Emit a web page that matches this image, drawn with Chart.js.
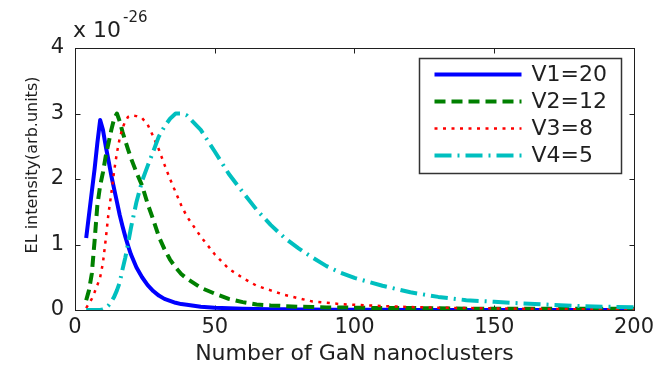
<!DOCTYPE html>
<html>
<head>
<meta charset="utf-8">
<title>EL intensity vs number of GaN nanoclusters</title>
<script src="https://cdn.jsdelivr.net/npm/chart.js@4.4.1/dist/chart.umd.min.js"></script>
<style>
  html, body { margin: 0; padding: 0; background: #fff; }
  .chart-container { position: relative; width: 659px; height: 367px; }
</style>
</head>
<body>
<div class="chart-container">
  <canvas id="chart" width="659" height="367"></canvas>
</div>
<script>
// values (y in units of 1e-26)
const xValues = [4, 5, 6, 7, 8, 9, 10, 11, 12, 13, 14, 15, 16, 17, 18, 19, 20,
  22, 24, 26, 28, 30, 32, 34, 36, 38, 40,
  45, 50, 55, 60, 65, 70, 75, 80, 85, 90, 95, 100,
  110, 120, 130, 140, 150, 160, 170, 180, 190, 200];

const v1 = [1.1, 1.45, 1.8, 2.15, 2.55, 2.9, 2.75, 2.5, 2.28, 2.05, 1.85, 1.65, 1.45, 1.28, 1.12, 0.98, 0.85,
  0.65, 0.5, 0.38, 0.29, 0.22, 0.17, 0.14, 0.11, 0.09, 0.08,
  0.05, 0.035, 0.027, 0.02, 0.015, 0.012, 0.01, 0.008, 0.006, 0.005, 0.004, 0.003,
  0.002, 0.001, 0.001, 0, 0, 0, 0, 0, 0, 0];

const v2 = [0.15, 0.3, 0.55, 1.05, 1.6, 1.9, 2.1, 2.35, 2.55, 2.75, 2.92, 3.0, 2.88, 2.72, 2.58, 2.45, 2.32,
  2.1, 1.9, 1.62, 1.38, 1.12, 0.93, 0.77, 0.65, 0.55, 0.48,
  0.34, 0.25, 0.17, 0.12, 0.085, 0.07, 0.06, 0.05, 0.045, 0.04, 0.04, 0.035,
  0.03, 0.03, 0.025, 0.02, 0.02, 0.02, 0.02, 0.02, 0.02, 0.02];

const v3 = [0.03, 0.1, 0.17, 0.27, 0.38, 0.5, 0.72, 1.08, 1.48, 1.78, 2.12, 2.4, 2.62, 2.78, 2.88, 2.95, 2.97,
  2.96, 2.93, 2.83, 2.65, 2.45, 2.22, 2.0, 1.8, 1.6, 1.43,
  1.12, 0.85, 0.63, 0.49, 0.37, 0.3, 0.23, 0.18, 0.13, 0.11, 0.09, 0.08,
  0.06, 0.045, 0.035, 0.03, 0.025, 0.02, 0.015, 0.012, 0.01, 0.01];

const v4 = [0, 0, 0, 0, 0, 0, 0.01, 0.03, 0.07, 0.13, 0.2, 0.3, 0.42, 0.62, 0.8, 1.02, 1.25,
  1.65, 1.97, 2.2, 2.42, 2.65, 2.8, 2.92, 3.0, 3.0, 2.97,
  2.75, 2.42, 2.08, 1.8, 1.53, 1.3, 1.1, 0.94, 0.8, 0.67, 0.57, 0.49,
  0.37, 0.27, 0.2, 0.15, 0.125, 0.1, 0.08, 0.06, 0.05, 0.04];

const seriesLabels = ["V1=20", "V2=12", "V3=8", "V4=5"];
const xTicks = [0, 50, 100, 150, 200];
const yTicks = [0, 1, 2, 3, 4];
const xTitle = "Number of GaN nanoclusters";
const yTitle = "EL intensity(arb.units)";
const expBase = "x 10";
const expPower = "-26";

const FONT = '"DejaVu Sans", sans-serif';
const INK = "#1f1f1f";

Chart.defaults.font.family = FONT;
Chart.defaults.color = INK;

const toPoints = (ys) => xValues.map((x, i) => ({ x: x, y: ys[i] }));

// box round the plot with inward tick marks, drawn under the curves
const axesBox = {
  id: "axesBox",
  beforeDatasetsDraw(chart) {
    const { ctx, chartArea: a, scales } = chart;
    const l = Math.round(a.left) + 0.5, r = Math.round(a.right) + 0.5;
    const t = Math.round(a.top) + 0.5, b = Math.round(a.bottom) + 0.5;
    ctx.save();
    ctx.strokeStyle = INK;
    ctx.lineWidth = 1;
    ctx.strokeRect(l, t, r - l, b - t);
    ctx.beginPath();
    xTicks.forEach((v) => {
      const px = Math.round(scales.x.getPixelForValue(v)) + 0.5;
      ctx.moveTo(px, b); ctx.lineTo(px, b - 5);
      ctx.moveTo(px, t); ctx.lineTo(px, t + 5);
    });
    yTicks.forEach((v) => {
      const py = Math.round(scales.y.getPixelForValue(v)) + 0.5;
      ctx.moveTo(l, py); ctx.lineTo(l + 5, py);
      ctx.moveTo(r, py); ctx.lineTo(r - 5, py);
    });
    ctx.stroke();
    ctx.restore();
  },
  afterDraw(chart) {
    const { ctx, chartArea: a } = chart;
    ctx.save();
    ctx.fillStyle = INK;
    // y axis title, sits a little above the middle of the axis like the original
    ctx.save();
    ctx.translate(33, (a.top + a.bottom) / 2 - 14);
    ctx.rotate(-Math.PI / 2);
    ctx.textAlign = "center";
    ctx.textBaseline = "middle";
    ctx.font = "16px " + FONT;
    ctx.fillText(yTitle, 0, 0);
    ctx.restore();
    // the "x 10^-26" factor above the y axis
    ctx.textBaseline = "alphabetic";
    ctx.font = "22px " + FONT;
    const x0 = a.left - 2;
    ctx.fillText(expBase, x0, a.top - 11);
    const w = ctx.measureText(expBase).width;
    ctx.font = "15px " + FONT;
    ctx.fillText(expPower, x0 + w + 2, a.top - 26);
    ctx.restore();
  }
};

// matlab style legend in the top right corner of the axes
const legendBox = {
  id: "legendBox",
  afterDatasetsDraw(chart) {
    const { ctx, chartArea: a } = chart;
    const w = 202, h = 115;
    const left = Math.round(a.right - 215) + 0.5, top = Math.round(a.top + 10) + 0.5;
    ctx.save();
    ctx.fillStyle = "#fff";
    ctx.fillRect(left, top, w, h);
    ctx.strokeStyle = "#333";
    ctx.lineWidth = 1.5;
    ctx.strokeRect(left, top, w, h);
    chart.data.datasets.forEach((ds, i) => {
      const y = top + 16 + i * 27;
      ctx.beginPath();
      ctx.setLineDash(ds.borderDash || []);
      ctx.lineWidth = ds.borderWidth;
      ctx.strokeStyle = ds.borderColor;
      ctx.moveTo(left + 15, y);
      ctx.lineTo(left + 102, y);
      ctx.stroke();
      ctx.setLineDash([]);
      ctx.fillStyle = INK;
      ctx.font = "22px " + FONT;
      ctx.textBaseline = "middle";
      ctx.fillText(ds.label, left + 112, y + 1);
    });
    ctx.restore();
  }
};

const canvas = document.getElementById("chart");

const chartConfig = {
  type: "line",
  data: {
    datasets: [
      {
        label: seriesLabels[0],
        data: toPoints(v1),
        borderColor: "#0000ff",
        borderWidth: 4,
        order: 4
      },
      {
        label: seriesLabels[1],
        data: toPoints(v2),
        borderColor: "#008000",
        borderWidth: 4,
        borderDash: [11, 6],
        order: 3
      },
      {
        label: seriesLabels[2],
        data: toPoints(v3),
        borderColor: "#ff0000",
        borderWidth: 2.5,
        borderDash: [3, 5.5],
        order: 2
      },
      {
        label: seriesLabels[3],
        data: toPoints(v4),
        borderColor: "#00bfbf",
        borderWidth: 4,
        borderDash: [17, 6, 2, 6],
        order: 1
      }
    ]
  },
  options: {
    responsive: false,
    devicePixelRatio: 1,
    animation: false,
    events: [],
    layout: { padding: { left: 0, right: 21, top: 48, bottom: 0 } },
    elements: {
      point: { radius: 0 },
      line: { tension: 0, fill: false, borderCapStyle: "butt", borderJoinStyle: "round" }
    },
    plugins: {
      legend: { display: false },
      tooltip: { enabled: false },
      title: { display: false }
    },
    scales: {
      x: {
        type: "linear",
        min: 0,
        max: 200,
        afterBuildTicks: (s) => { s.ticks = xTicks.map((v) => ({ value: v })); },
        afterFit: (s) => { s.height = 57; },
        grid: { display: false, drawTicks: false },
        border: { display: false },
        ticks: { padding: 5, maxRotation: 0, autoSkip: false, font: { size: 21 }, color: INK },
        title: { display: true, text: xTitle, font: { size: 22 }, color: INK, padding: 0 }
      },
      y: {
        type: "linear",
        min: 0,
        max: 4,
        afterBuildTicks: (s) => { s.ticks = yTicks.map((v) => ({ value: v })); },
        afterFit: (s) => { s.width = 75; },
        grid: { display: false, drawTicks: false },
        border: { display: false },
        ticks: { padding: 11, font: { size: 21 }, color: INK },
        title: { display: false, text: yTitle }
      }
    }
  },
  plugins: [axesBox, legendBox]
};

const chart = new Chart(canvas, chartConfig);
canvas.chart = chart;
</script>
</body>
</html>
